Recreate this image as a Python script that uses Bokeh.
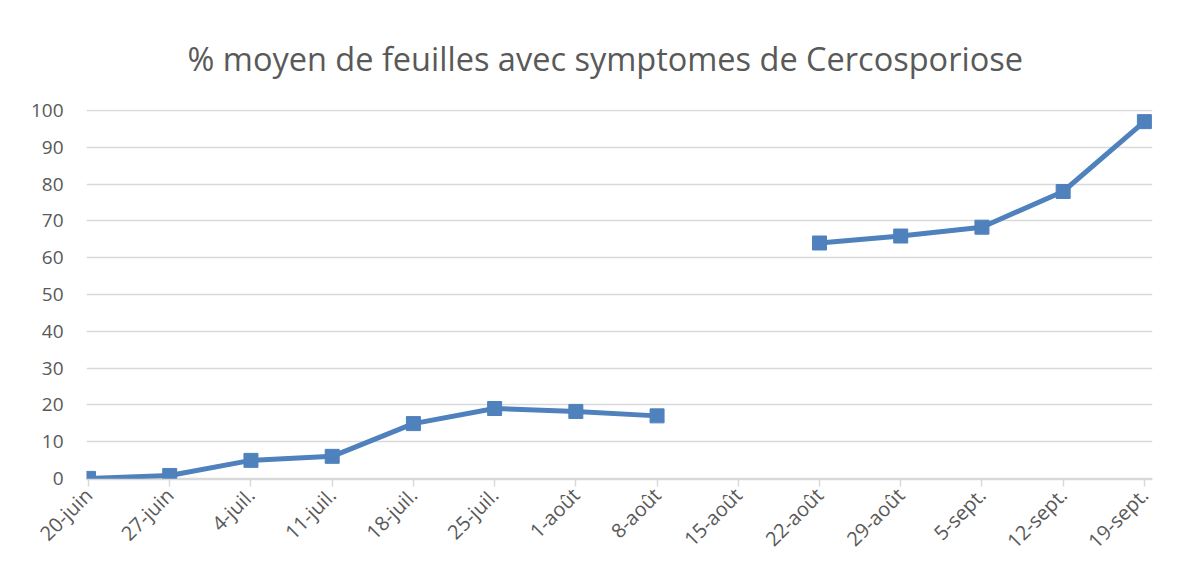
import numpy as np
from math import pi
from bokeh.plotting import figure
from bokeh.models import Range1d, FixedTicker
from bokeh.embed import file_html
from bokeh.resources import INLINE

categories = ["20-juin", "27-juin", "4-juil.", "11-juil.", "18-juil.", "25-juil.", "1-août",
              "8-août", "15-août", "22-août", "29-août", "5-sept.", "12-sept.", "19-sept."]
values = [0, 0.8, 4.9, 6, 14.9, 19, 18.2, 17, np.nan, 64, 65.9, 68.3, 78, 97]
y_ticks = [0, 10, 20, 30, 40, 50, 60, 70, 80, 90, 100]
title_text = "% moyen de feuilles avec symptomes de Cercosporiose"

FONT = "Open Sans"
GREY = "#595959"
BLUE = "#4f81bd"

xs = list(range(len(categories)))

p = figure(width=1168, height=566, output_backend="svg", toolbar_location=None,
           x_range=Range1d(-0.025, 13.1), y_range=Range1d(-0.3, 100.3),
           min_border_left=86, min_border_right=16, min_border_top=109, min_border_bottom=86,
           background_fill_color="white", border_fill_color="white",
           title=title_text)
p.outline_line_color = None

p.title.text_font = FONT
p.title.text_font_size = "32.5px"
p.title.text_font_style = "normal"
p.title.text_color = GREY
p.title.align = "left"
p.title.offset = 101
p.title.standoff = 57

p.line(xs, values, line_color=BLUE, line_width=5)
p.scatter(xs, values, marker="square", size=14, fill_color=BLUE, line_color=BLUE)

p.xaxis.ticker = FixedTicker(ticks=xs)
p.xaxis.major_label_overrides = {i: c for i, c in enumerate(categories)}
p.xaxis.major_label_orientation = pi / 4
p.xaxis.major_label_text_font = FONT
p.xaxis.major_label_text_font_size = "20px"
p.xaxis.major_label_text_color = GREY
p.xaxis.axis_line_color = "#d9d9d9"
p.xaxis.axis_line_width = 1.5
p.xaxis.major_tick_line_color = "#d9d9d9"
p.xaxis.major_tick_line_width = 1.5
p.xaxis.major_tick_out = 7
p.xaxis.major_tick_in = 0
p.xaxis.minor_tick_line_color = None
p.xaxis.major_label_standoff = 5
p.xgrid.grid_line_color = None

p.yaxis.ticker = FixedTicker(ticks=y_ticks)
p.yaxis.major_label_text_font = FONT
p.yaxis.major_label_text_font_size = "19px"
p.yaxis.major_label_text_color = GREY
p.yaxis.axis_line_color = None
p.yaxis.major_tick_line_color = None
p.yaxis.minor_tick_line_color = None
p.yaxis.major_label_standoff = 17
p.ygrid.grid_line_color = "#d9d9d9"
p.ygrid.grid_line_width = 1.5

open("out.html", "w").write(file_html(p, INLINE))
